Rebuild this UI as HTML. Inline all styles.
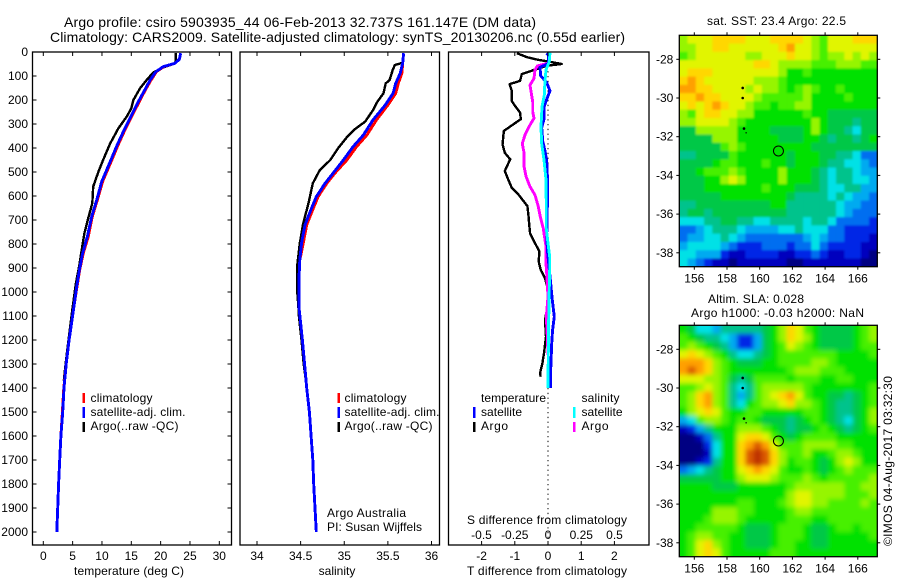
<!DOCTYPE html>
<html>
<head>
<meta charset="utf-8">
<title>Argo profile csiro 5903935_44</title>
<style>
html,body{margin:0;padding:0;background:#fff;}
svg{display:block;}
text{font-family:"Liberation Sans",sans-serif;font-size:12px;fill:#000;}
.ttl{font-size:14px;}
</style>
</head>
<body>
<svg id="fig" xmlns="http://www.w3.org/2000/svg" width="900" height="580" viewBox="0 0 900 580">
  <defs>
    <clipPath id="clipSst"><rect x="679.3" y="35.3" width="198" height="231.4"/></clipPath>
    <clipPath id="clipSla"><rect x="679.3" y="325.3" width="198" height="231.4"/></clipPath>
    <filter id="blurSst" x="-5%" y="-5%" width="110%" height="110%"><feGaussianBlur stdDeviation="1"/></filter>
    <filter id="blurSla" x="-5%" y="-5%" width="110%" height="110%"><feGaussianBlur stdDeviation="2.3"/></filter>
  </defs>
  <text class="ttl" x="64" y="27" textLength="472">Argo profile: csiro 5903935_44 06-Feb-2013 32.737S 161.147E (DM data)</text>
  <text class="ttl" x="50" y="42" textLength="575">Climatology: CARS2009. Satellite-adjusted climatology: synTS_20130206.nc (0.55d earlier)</text>

  <g id="p1"></g>
  <g id="p2"></g>
  <g id="p3"></g>
  <g id="m1"></g>
  <g id="m2"></g>

  <g>
    <rect x="82.5" y="393" width="2.5" height="10" fill="#f00"/>
    <text x="90.5" y="402" textLength="62">climatology</text>
    <rect x="82.5" y="407" width="2.5" height="11" fill="#00f"/>
    <text x="90.5" y="416" textLength="95">satellite-adj. clim.</text>
    <rect x="82.5" y="422" width="2.5" height="10" fill="#000"/>
    <text x="90.5" y="430" textLength="88">Argo(..raw -QC)</text>
  </g>
  <g>
    <rect x="337.5" y="393" width="2.5" height="10" fill="#f00"/>
    <text x="344.5" y="402" textLength="62">climatology</text>
    <rect x="337.5" y="407" width="2.5" height="11" fill="#00f"/>
    <text x="344.5" y="416" textLength="95">satellite-adj. clim.</text>
    <rect x="337.5" y="422" width="2.5" height="10" fill="#000"/>
    <text x="344.5" y="430" textLength="88">Argo(..raw -QC)</text>
    <text x="327" y="517" textLength="79">Argo Australia</text>
    <text x="327" y="531" textLength="95">PI: Susan Wijffels</text>
  </g>
  <g>
    <text x="481" y="402" textLength="65">temperature</text>
    <text x="581.5" y="402" textLength="38">salinity</text>
    <rect x="473" y="407" width="2.5" height="11" fill="#00f"/>
    <text x="481" y="416" textLength="41">satellite</text>
    <rect x="573" y="407" width="2.5" height="11" fill="#0ff"/>
    <text x="581.5" y="416" textLength="41">satellite</text>
    <rect x="473" y="422" width="2.5" height="10" fill="#000"/>
    <text x="481" y="430" textLength="27">Argo</text>
    <rect x="573" y="422" width="2.5" height="10" fill="#f0f"/>
    <text x="581.5" y="430" textLength="27">Argo</text>
  </g>

  <text x="129" y="575" text-anchor="middle" textLength="110">temperature (deg C)</text>
  <text x="337" y="575" text-anchor="middle">salinity</text>
  <text x="547" y="575" text-anchor="middle" textLength="160">T difference from climatology</text>
  <text x="547" y="524" text-anchor="middle" textLength="160">S difference from climatology</text>

  <text x="776.5" y="25" text-anchor="middle" textLength="139">sat. SST: 23.4 Argo: 22.5</text>
  <text x="756" y="303" text-anchor="middle" textLength="96">Altim. SLA: 0.028</text>
  <text x="777.5" y="317" text-anchor="middle" textLength="173">Argo h1000: -0.03 h2000: NaN</text>
  <text transform="translate(892,546) rotate(-90)" textLength="170">©IMOS 04-Aug-2017 03:32:30</text>
</svg>

<script>
/* ---------- axis tick values ---------- */
var depthTicks = [0,100,200,300,400,500,600,700,800,900,1000,1100,1200,1300,1400,1500,1600,1700,1800,1900,2000];
var tempTicks = [0,5,10,15,20,25,30];
var salTicks = [34,34.5,35,35.5,36];
var salTickLabels = ['34','34.5','35','35.5','36'];
var tDiffTicks = [-2,-1,0,1,2];
var sDiffTicks = [-0.5,-0.25,0,0.25,0.5];
var sDiffTickLabels = ['-0.5','-0.25','0','0.25','0.5'];
var lonTicks = [156,158,160,162,164,166];
var latTicks = [-28,-30,-32,-34,-36,-38];

/* ---------- temperature profiles (depth m, deg C) ---------- */
var climDepth = [5,30,47,61,82,117,158,207,262,318,387,457,540,617,686,770,839,908,978,1047,1100,1200,1300,1400,1500,1600,1700,1800,1900,2000];
var tempClim = [23.4,23.2,22.45,20.55,19.3,18.35,17.4,16.35,15.2,14.05,12.75,11.55,10.1,9.2,8.35,7.65,6.8,6.2,5.75,5.3,5.0,4.4,3.9,3.5,3.25,3.0,2.8,2.6,2.45,2.3];
var tempSat = [23.4,23.2,22.45,20.45,19.2,18.2,17.3,16.2,15.05,13.9,12.6,11.4,9.95,9.1,8.25,7.5,6.7,6.15,5.7,5.3,5.0,4.4,3.9,3.53,3.3,3.0,2.8,2.6,2.45,2.3];
var argoTempDepth = [5,40,50,64,85,117,151,200,235,270,318,381,450,499,561,630,693,755,825,894,964,1047,1100,1200,1300,1370];
var tempArgo = [22.6,22.6,22.2,20.45,18.75,17.6,16.5,15.35,15.0,14.2,12.8,11.4,10.2,9.4,8.5,8.35,7.65,7.0,6.55,6.1,5.55,5.1,4.8,4.3,3.8,3.5];

/* ---------- salinity profiles ---------- */
var salDepth = [5,47,89,131,172,221,283,346,395,450,506,547,603,665,721,797,867,950,1061,1200,1300,1400,1500,1600,1700,1800,1900,2000];
var salClim = [35.68,35.67,35.66,35.62,35.59,35.50,35.37,35.26,35.14,35.03,34.89,34.80,34.70,34.63,34.57,34.53,34.49,34.48,34.48,34.52,34.545,34.57,34.6,34.62,34.64,34.65,34.665,34.68];
var salSat = [35.68,35.67,35.64,35.59,35.56,35.47,35.33,35.22,35.10,34.99,34.87,34.78,34.68,34.61,34.55,34.51,34.49,34.48,34.48,34.52,34.545,34.57,34.6,34.62,34.64,34.65,34.665,34.68];
var argoSalDepth = [5,45,54,75,117,131,172,207,242,290,322,355,401,450,492,547,630,714,797,894,992,1061,1100,1200,1300,1370];
var salArgo = [35.68,35.67,35.58,35.555,35.52,35.475,35.45,35.38,35.33,35.24,35.12,35.03,34.93,34.84,34.72,34.64,34.59,34.53,34.49,34.46,34.46,34.475,34.48,34.51,34.535,34.56];

/* ---------- difference profiles ---------- */
var dTArgoDepth = [5,22,33,39,50,57,78,92,120,134,162,183,204,225,253,280,301,329,357,385,420,447,496,524,566,594,642,691,714,756,797,831,873,908,942,977,1047,1117,1186,1255,1297,1339,1353];
var dTArgo = [-0.94,-0.62,-0.29,0,0.41,-0.04,-0.49,-0.79,-0.84,-1.16,-1.09,-1.09,-1.09,-0.99,-0.84,-0.82,-1.04,-1.33,-1.35,-1.37,-1.3,-1.14,-1.3,-1.22,-1.09,-0.89,-0.62,-0.58,-0.57,-0.54,-0.39,-0.26,-0.28,-0.22,-0.09,-0.02,0,-0.09,-0.06,-0.12,-0.17,-0.24,-0.22];
var dTSatDepth = [5,12,47,64,99,127,162,197,231,280,315,371,412,454,510,579,648,770,839,978,1033,1103,1158,1214,1325,1400];
var dTSat = [-0.04,0.01,0.02,-0.24,-0.22,-0.04,0.06,-0.04,-0.12,-0.12,-0.19,-0.16,-0.09,-0.04,-0.02,-0.02,-0.02,-0.04,-0.01,0.09,0.13,0.19,0.14,0.11,0.08,0.08];
var dSSatDepth = [3,40,75,124,179,228,311,381,450,533,644,735,783,853,908,978,1117,1256,1401];
var dSSat = [0.015,0.01,-0.015,-0.023,-0.028,-0.045,-0.053,-0.048,-0.03,-0.015,-0.013,-0.013,-0.003,0.013,0.013,0.01,0.005,0.002,0];
var dSArgoDepth = [47,58,75,110,138,179,207,249,276,304,346,381,422,478,519,561,596,644,686,735,756,811,881,922,1019,1103,1186,1256,1339];
var dSArgo = [0,-0.08,-0.098,-0.105,-0.135,-0.123,-0.115,-0.115,-0.105,-0.135,-0.173,-0.193,-0.18,-0.18,-0.165,-0.135,-0.098,-0.073,-0.058,-0.035,-0.03,-0.015,-0.015,-0.01,0,-0.013,-0.005,0,0.018];

/* ---------- map values (colour levels 0 = coldest/lowest, 15 = warmest/highest) ---------- */
var sstLevels = [
[10,11,11,11,12,12,12,12,11,11,11,12,12,12,12,11,10,9,11,11,11,12,12,12],
[10,10,11,11,12,12,11,11,11,11,11,11,12,13,11,11,10,9,11,11,11,11,11,11],
[9,10,11,11,11,11,11,11,10,10,11,11,11,12,11,11,10,9,10,10,11,10,11,10],
[11,11,11,11,11,11,11,11,11,12,12,11,10,10,10,10,9,9,9,10,10,10,9,9],
[11,12,12,12,11,11,11,11,11,11,11,11,10,8,8,9,8,8,8,8,8,8,8,8],
[12,13,12,11,11,11,11,11,11,10,10,10,9,8,8,8,8,8,8,8,8,8,8,8],
[13,13,12,12,11,11,11,11,10,11,10,10,9,8,9,10,9,8,8,9,8,8,8,8],
[12,12,13,12,12,11,11,11,11,10,9,9,9,9,9,10,8,8,8,8,9,8,8,8],
[11,12,11,12,13,12,11,11,10,9,9,8,9,9,10,10,8,8,8,8,8,8,8,8],
[10,9,11,12,12,11,11,10,10,8,8,8,8,8,8,9,8,8,7,7,7,7,7,7],
[10,10,11,11,11,11,10,9,8,8,8,8,8,8,8,8,10,8,7,7,7,6,7,7],
[7,7,10,10,10,10,10,8,8,8,8,7,7,7,7,8,10,8,7,7,6,5,7,7],
[7,7,7,7,10,10,10,8,8,8,8,8,7,7,7,8,8,7,6,7,7,6,7,8],
[7,7,7,7,7,9,10,9,8,8,8,8,8,8,8,8,7,7,7,7,7,7,7,7],
[6,6,7,7,7,7,9,8,8,8,8,8,8,7,8,8,8,7,7,6,6,5,3,3],
[7,7,7,7,8,9,9,8,8,8,9,8,8,7,8,8,8,7,6,6,5,5,4,3],
[7,7,8,9,9,9,10,9,8,8,8,8,10,8,8,8,7,6,5,6,6,5,4,4],
[7,7,7,8,8,10,11,10,8,8,8,8,10,8,8,8,7,6,5,6,6,5,5,4],
[7,7,7,8,8,8,8,8,8,8,9,8,8,8,7,7,7,6,5,5,6,6,4,4],
[7,7,7,7,7,8,8,8,8,8,8,8,8,7,6,6,6,6,5,6,5,4,4,3],
[6,6,7,7,7,7,7,7,7,7,7,8,8,6,6,6,6,6,6,5,4,4,3,3],
[6,7,7,6,7,7,7,7,7,7,7,7,7,6,6,6,6,6,6,5,4,3,3,3],
[5,5,5,6,6,7,7,6,6,5,5,6,6,6,6,5,6,6,5,3,3,3,3,2],
[3,3,4,5,6,6,6,5,4,4,4,4,5,5,6,5,5,5,3,3,2,2,2,2],
[3,4,4,5,5,6,5,4,3,3,3,3,3,3,3,4,5,4,3,3,2,2,2,1],
[4,5,5,5,5,4,3,2,2,2,3,3,3,2,3,3,5,3,2,2,2,2,1,1],
[5,5,4,4,4,2,1,1,2,2,2,2,1,1,2,2,3,2,1,1,2,2,1,0],
[5,4,3,2,1,1,0,1,1,1,1,1,1,0,0,1,1,1,1,1,1,1,0,0]
];
var slaLevels = [
[8,7,5,5,4,6,6,6,6,6,7,8,10,12,11,9,8,7,7,7,7,8,9,10],
[9,8,7,6,6,5,4,2,2,4,7,8,10,12,11,10,8,7,7,7,7,8,9,10],
[9,10,9,8,7,6,4,2,2,4,7,8,9,11,10,9,8,7,7,7,7,8,9,9],
[11,12,11,10,9,8,6,5,5,6,7,8,9,9,9,9,9,9,9,8,8,8,8,9],
[13,13,13,12,10,9,8,7,7,7,8,8,9,9,9,9,10,10,9,8,8,8,8,8],
[13,14,13,12,10,9,8,8,8,8,8,8,8,9,10,10,10,9,9,9,8,8,8,8],
[11,11,11,10,10,9,7,6,7,9,9,9,9,8,9,9,9,8,8,9,9,8,8,8],
[9,9,10,11,10,9,6,5,6,9,10,10,10,10,10,9,8,8,8,8,8,8,8,9],
[9,10,12,13,10,9,6,4,6,9,10,11,12,13,11,9,8,8,7,7,6,7,8,9],
[9,10,12,13,10,9,6,5,8,9,10,10,11,12,10,10,9,8,7,6,6,7,8,9],
[8,10,11,12,11,9,8,8,9,9,8,8,8,8,8,9,9,8,7,6,6,7,8,10],
[4,5,9,10,10,9,8,9,9,8,7,7,7,6,7,8,9,8,7,6,5,7,8,10],
[1,2,4,6,8,8,8,10,10,10,9,8,7,6,7,7,8,9,8,7,6,7,8,9],
[0,0,1,3,6,8,8,11,12,12,11,9,8,7,8,9,9,9,9,8,8,8,8,8],
[0,0,0,2,5,8,8,12,13,14,13,11,9,9,9,10,10,10,10,9,9,8,8,8],
[0,0,0,1,5,8,8,12,14,15,14,12,10,9,9,10,8,8,9,10,10,9,8,8],
[0,0,1,2,6,8,8,12,14,15,14,12,10,8,9,9,8,7,8,10,11,10,8,8],
[3,4,5,6,7,8,8,11,12,13,12,11,9,8,8,9,8,7,8,9,10,9,9,9],
[7,7,7,7,7,8,8,10,11,11,11,10,9,9,9,10,9,8,9,9,9,9,9,10],
[8,8,8,8,7,7,7,8,8,8,8,8,8,9,10,10,10,10,10,10,9,9,10,10],
[8,8,8,8,8,8,8,8,8,8,8,8,8,10,11,11,10,10,10,10,9,9,9,10],
[8,8,8,8,8,8,8,9,9,8,8,8,9,10,11,11,10,10,9,9,9,9,10,9],
[8,8,8,8,10,10,10,9,9,8,8,8,8,9,10,10,9,9,9,9,9,9,9,9],
[8,8,8,9,10,10,10,9,8,8,8,8,8,9,9,9,8,8,9,9,9,9,9,9],
[8,8,9,9,9,9,9,8,7,7,7,8,9,9,9,8,7,7,8,9,9,8,9,9],
[8,9,10,10,9,9,8,8,7,7,7,8,9,9,9,8,7,7,8,8,8,8,8,9],
[8,9,11,12,10,9,8,8,7,7,7,8,9,9,8,8,7,7,8,8,8,8,8,8],
[8,9,11,12,11,9,8,8,8,8,8,9,9,9,8,8,8,8,8,8,8,8,8,8]
];
var floatLon = [161.147];
var floatLat = [-32.737];
var islandLons = [158.96,158.96,159.04,159.17];
var islandLats = [-29.48,-30.0,-31.58,-31.8];

/* ---------- helpers ---------- */
var NS = 'http://www.w3.org/2000/svg';
function mk(parent, tag, attrs){
  var el = document.createElementNS(NS, tag);
  for (var k in attrs) el.setAttribute(k, attrs[k]);
  parent.appendChild(el);
  return el;
}
var panelTop = 52, panelBottom = 545;
function yDepth(d){ return panelTop + d * 0.24; }
function xTemp(v){ return 43.3 + v * 5.867; }
function xSal(v){ return 257 + (v - 34) * 87.25; }
function xDT(v){ return 548 + v * 33.2; }
function xDS(v){ return 548 + v * 133; }
function xLon(v){ return 694.3 + (v - 156) * 16.35; }
function yLat1(v){ return 59.3 + (-28 - v) * 19.35; }
function yLat2(v){ return yLat1(v) + 290; }

function drawLine(parent, depths, values, xFn, color, width, name){
  var pts = [];
  for (var i = 0; i < depths.length; i++) pts.push(xFn(values[i]).toFixed(1) + ',' + yDepth(depths[i]).toFixed(1));
  var el = mk(parent, 'polyline', {points: pts.join(' '), fill: 'none', stroke: color, 'stroke-width': width, 'stroke-linejoin': 'round', 'shape-rendering': 'crispEdges'});
  
  
}
function tick(parent, x1, y1, x2, y2, name){
  var el = mk(parent, 'line', {x1: x1, y1: y1, x2: x2, y2: y2, stroke: '#000', 'stroke-width': 1});
  
  
}
function label(parent, x, y, str, anchor, name){
  var el = mk(parent, 'text', {x: x, y: y, 'text-anchor': anchor});
  el.textContent = str;
  
  
}
function frame(parent, x, y, w, h, name){
  var el = mk(parent, 'rect', {x: x, y: y, width: w, height: h, fill: 'none', stroke: '#000', 'stroke-width': 1.3});
  
  
}
function xTicks(parent, ticks, labels, xFn, labelY, name){
  ticks.forEach(function(t, i){
    var x = xFn(t);
    tick(parent, x, panelTop, x, panelTop + 4, name + '-tick-top');
    tick(parent, x, panelBottom - 4, x, panelBottom, name + '-tick-bottom');
    if (labels) label(parent, x, labelY, labels[i], 'middle', name + '-tick-label');
  });
}

/* ---------- temperature panel ---------- */
var p1 = document.getElementById('p1');
drawLine(p1, argoTempDepth, tempArgo, xTemp, '#000', 2.4, 'temperature-argo-line');
drawLine(p1, climDepth, tempClim, xTemp, '#f00', 2.9, 'temperature-climatology-line');
drawLine(p1, climDepth, tempSat, xTemp, '#00f', 2.9, 'temperature-satellite-line');
frame(p1, 32.5, panelTop, 199, panelBottom - panelTop, 'temperature-plot-frame');
depthTicks.forEach(function(d){
  var y = yDepth(d);
  tick(p1, 32.5, y, 36.5, y, 'depth-tick-left');
  tick(p1, 227.5, y, 231.5, y, 'depth-tick-right');
  label(p1, 28, y + 4, String(d), 'end', 'depth-tick-label');
});
xTicks(p1, tempTicks, tempTicks.map(String), xTemp, 560, 'temperature');

/* ---------- salinity panel ---------- */
var p2 = document.getElementById('p2');
drawLine(p2, argoSalDepth, salArgo, xSal, '#000', 2.4, 'salinity-argo-line');
drawLine(p2, salDepth, salClim, xSal, '#f00', 2.9, 'salinity-climatology-line');
drawLine(p2, salDepth, salSat, xSal, '#00f', 2.9, 'salinity-satellite-line');
frame(p2, 240, panelTop, 199.5, panelBottom - panelTop, 'salinity-plot-frame');
xTicks(p2, salTicks, salTickLabels, xSal, 560, 'salinity');

/* ---------- difference panel ---------- */
var p3 = document.getElementById('p3');
var zeroLine = mk(p3, 'line', {x1: xDT(0), y1: panelTop, x2: xDT(0), y2: panelBottom, stroke: '#000', 'stroke-width': 1, 'stroke-dasharray': '1.3 3.5'});


drawLine(p3, dTArgoDepth, dTArgo, xDT, '#000', 2.4, 't-difference-argo-line');
drawLine(p3, dSArgoDepth, dSArgo, xDS, '#f0f', 2.9, 's-difference-argo-line');
drawLine(p3, dTSatDepth, dTSat, xDT, '#00f', 2.9, 't-difference-satellite-line');
drawLine(p3, dSSatDepth, dSSat, xDS, '#0ff', 2.9, 's-difference-satellite-line');
frame(p3, 448.5, panelTop, 200.5, panelBottom - panelTop, 'difference-plot-frame');
xTicks(p3, tDiffTicks, tDiffTicks.map(String), xDT, 560, 't-difference');
sDiffTicks.forEach(function(t, i){
  label(p3, xDS(t), 539, sDiffTickLabels[i], 'middle', 's-difference-tick-label');
});

/* ---------- maps ---------- */
var colorStops = [[0,0,130],[0,0,190],[0,40,230],[0,110,240],[0,170,240],[0,225,230],[0,195,140],[0,200,70],[0,225,0],[70,240,0],[150,245,0],[225,245,0],[255,215,0],[255,160,0],[220,90,0],[190,50,0]];
function levelColor(v){
  var i = Math.max(0, Math.min(colorStops.length - 1, Math.round(v)));
  var c = colorStops[i];
  return 'rgb(' + c[0] + ',' + c[1] + ',' + c[2] + ')';
}
function drawMap(gid, rows, clipId, filterId, yLat, top, name){
  var g = document.getElementById(gid);
  var left = 679.3, w = 198, h = 231.4;
  var clip = mk(g, 'g', {'clip-path': 'url(#' + clipId + ')'});
  
  
  var cells = mk(clip, 'g', {filter: 'url(#' + filterId + ')'});
  var nr = rows.length;
  rows.forEach(function(row, r){
    var nc = row.length;
    row.forEach(function(v, c){
      var cw = w / nc, ch = h / nr;
      var x = left + c * cw, y = top + r * ch, ww = cw + 0.4, hh = ch + 0.4;
      if (c === 0) { x -= 10; ww += 10; }
      if (c === nc - 1) { ww += 10; }
      if (r === 0) { y -= 10; hh += 10; }
      if (r === nr - 1) { hh += 10; }
      var cell = mk(cells, 'rect', {x: x, y: y, width: ww, height: hh, fill: levelColor(v)});
      
      
    });
  });
  frame(g, left, top, w, h, name + '-frame');
  lonTicks.forEach(function(t){
    var x = xLon(t);
    tick(g, x, top - 3, x, top, name + '-lon-tick-top');
    tick(g, x, top + h, x, top + h + 3, name + '-lon-tick-bottom');
    label(g, x, top + h + 16, String(t), 'middle', name + '-lon-label');
  });
  latTicks.forEach(function(t){
    var y = yLat(t);
    tick(g, left - 3, y, left, y, name + '-lat-tick-left');
    tick(g, left + w, y, left + w + 3, y, name + '-lat-tick-right');
    label(g, left - 6, y + 4, String(t), 'end', name + '-lat-label');
  });
  islandLons.forEach(function(lon, i){
    var s = mk(g, 'circle', {cx: xLon(lon), cy: yLat(islandLats[i]), r: i === 3 ? 0.7 : 1.3, fill: '#000'});
    
    
  });
  var circle = mk(g, 'circle', {cx: xLon(floatLon[0]), cy: yLat(floatLat[0]), r: 5, fill: 'none', stroke: '#000', 'stroke-width': 1});
  
  
}
drawMap('m1', sstLevels, 'clipSst', 'blurSst', yLat1, 35.3, 'sst');
drawMap('m2', slaLevels, 'clipSla', 'blurSla', yLat2, 325.3, 'sla');
</script>
</body>
</html>
